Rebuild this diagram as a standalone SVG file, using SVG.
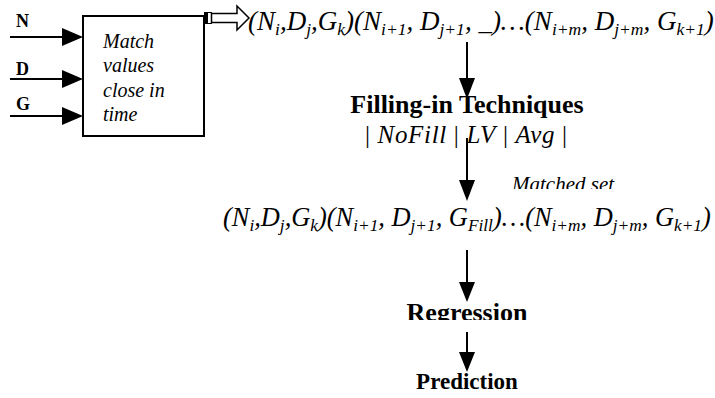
<svg xmlns="http://www.w3.org/2000/svg" width="715" height="398" viewBox="0 0 715 398">
<style>
.bg{fill:#ffffff}
.ln{stroke:#000;stroke-width:2;fill:none}
.hd{fill:#000;stroke:none}
.lbl{font-family:"Liberation Serif","Times New Roman",serif;font-weight:bold;font-size:18px;fill:#000}
.it{font-family:"Liberation Serif","Times New Roman",serif;font-style:italic;fill:#000}
.bt{font-family:"Liberation Serif","Times New Roman",serif;font-weight:bold;fill:#000}
.tup{font-family:"Liberation Serif","Times New Roman",serif;font-style:italic;fill:#000}
.t1{font-size:27px}
.t2{font-size:26.4px}
.sb1{font-size:17.5px}
.sb2{font-size:17.3px}
</style>
<defs>
<clipPath id="clipMatched"><rect x="480" y="160" width="200" height="29"/></clipPath>
<clipPath id="clipReg"><rect x="380" y="290" width="200" height="30"/></clipPath>
</defs>
<rect class="bg" x="0" y="0" width="715" height="398"/>

<g id="connectors">
  <line class="ln" x1="10" y1="37" x2="66" y2="37"/>
  <polygon class="hd" points="62,28 83,37 62,46"/>
  <line class="ln" x1="10" y1="79" x2="66" y2="79"/>
  <polygon class="hd" points="62,70 83,79 62,88"/>
  <line class="ln" x1="10" y1="116" x2="66" y2="116"/>
  <polygon class="hd" points="62,107 83,116 62,125"/>
  <g id="hollow-arrow">
    <rect x="204" y="12" width="3" height="12" fill="#000"/>
    <rect x="207.5" y="12.5" width="4" height="11" fill="#fff" stroke="#000" stroke-width="1"/>
    <polygon points="211.5,13.5 237,13.5 237,6 249,18 237,30 237,22.5 211.5,22.5" fill="#fff" stroke="#000" stroke-width="1.5"/>
  </g>
  <line class="ln" x1="467" y1="42" x2="467" y2="82"/>
  <polygon class="hd" points="459,78 475,78 467,99"/>
  <line class="ln" x1="467" y1="138" x2="467" y2="184"/>
  <polygon class="hd" points="459,180 475,180 467,201"/>
  <line class="ln" x1="467" y1="250" x2="467" y2="286"/>
  <polygon class="hd" points="459,282 475,282 467,302"/>
  <line class="ln" x1="467" y1="332" x2="467" y2="356"/>
  <polygon class="hd" points="459,352 475,352 467,372"/>
</g>

<g id="label-N"><text class="lbl" x="16" y="27">N</text></g>
<g id="label-D"><text class="lbl" x="16" y="75">D</text></g>
<g id="label-G"><text class="lbl" x="16" y="110">G</text></g>

<g id="match-box">
  <rect class="ln" x="83" y="16" width="121" height="120"/>
  <text class="it" font-size="20" x="103" y="48">Match</text>
  <text class="it" font-size="20" x="103" y="72">values</text>
  <text class="it" font-size="20" x="103" y="97">close in</text>
  <text class="it" font-size="20" x="103" y="121">time</text>
</g>

<g id="tuple-raw">
  <text class="tup t1" x="248" y="30">(N<tspan class="sb1" dy="5">i</tspan><tspan dy="-5">,D</tspan><tspan class="sb1" dy="5">j</tspan><tspan dy="-5">,G</tspan><tspan class="sb1" dy="5">k</tspan><tspan dy="-5">)(N</tspan><tspan class="sb1" dy="5">i+1</tspan><tspan dy="-5">, D</tspan><tspan class="sb1" dy="5">j+1</tspan><tspan dy="-5">, _)…(N</tspan><tspan class="sb1" dy="5">i+m</tspan><tspan dy="-5">, D</tspan><tspan class="sb1" dy="5">j+m</tspan><tspan dy="-5">, G</tspan><tspan class="sb1" dy="5">k+1</tspan><tspan dy="-5">)</tspan></text>
</g>

<g id="filling">
  <text class="bt" font-size="26" x="467" y="113" text-anchor="middle">Filling-in Techniques</text>
  <text font-family="'Liberation Serif','Times New Roman',serif" font-size="25" x="365" y="143" textLength="202" lengthAdjust="spacing">| <tspan font-style="italic">NoFill</tspan> | <tspan font-style="italic">LV</tspan> | <tspan font-style="italic">Avg</tspan> |</text>
</g>

<g id="matched-set">
  <text class="it" font-size="21" x="512" y="191" clip-path="url(#clipMatched)">Matched set</text>
</g>

<g id="tuple-filled">
  <text class="tup t2" x="223" y="226">(N<tspan class="sb2" dy="5">i</tspan><tspan dy="-5">,D</tspan><tspan class="sb2" dy="5">j</tspan><tspan dy="-5">,G</tspan><tspan class="sb2" dy="5">k</tspan><tspan dy="-5">)(N</tspan><tspan class="sb2" dy="5">i+1</tspan><tspan dy="-5">, D</tspan><tspan class="sb2" dy="5">j+1</tspan><tspan dy="-5">, G</tspan><tspan class="sb2" dy="5">Fill</tspan><tspan dy="-5">)…(N</tspan><tspan class="sb2" dy="5">i+m</tspan><tspan dy="-5">, D</tspan><tspan class="sb2" dy="5">j+m</tspan><tspan dy="-5">, G</tspan><tspan class="sb2" dy="5">k+1</tspan><tspan dy="-5">)</tspan></text>
</g>

<g id="regression">
  <text class="bt" font-size="26" x="467" y="321" text-anchor="middle" clip-path="url(#clipReg)">Regression</text>
</g>

<g id="prediction">
  <text class="bt" font-size="23" x="467" y="389" text-anchor="middle">Prediction</text>
</g>
</svg>
